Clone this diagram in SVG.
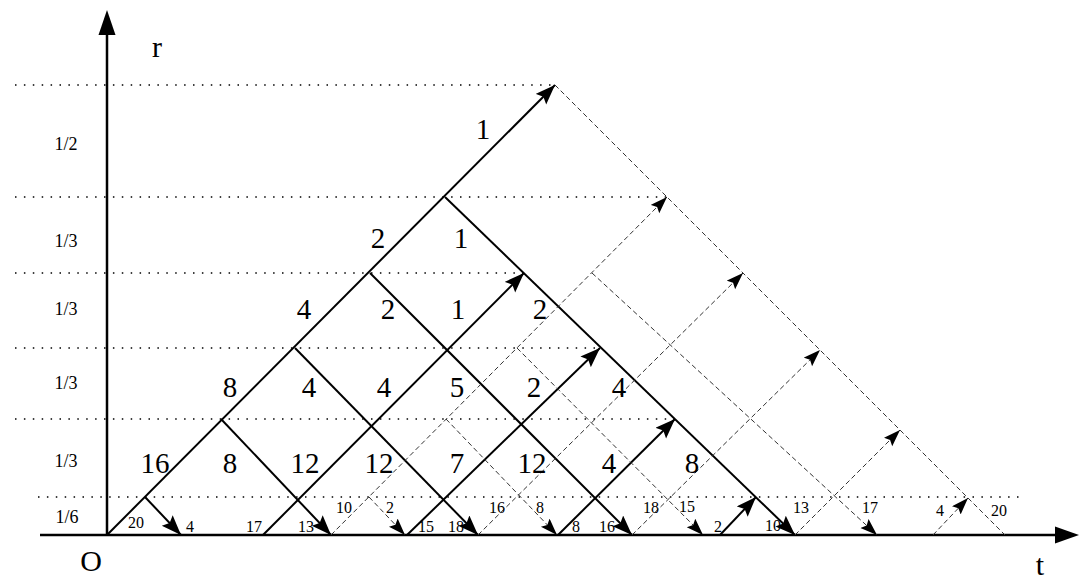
<svg xmlns="http://www.w3.org/2000/svg" width="1080" height="582" viewBox="0 0 1080 582">
<style>
  .dot{stroke:#000;stroke-width:1.5;stroke-dasharray:1.5 7.4;fill:none}
  .sol{stroke:#000;stroke-width:2;fill:none}
  .das{stroke:#333;stroke-width:1;stroke-dasharray:5 3;fill:none}
  .axis{stroke:#000;stroke-width:2.5;fill:none}
  .big{font-family:"Liberation Serif","Times New Roman",serif;font-size:29px;text-anchor:middle;fill:#000}
  .sm{font-family:"Liberation Serif","Times New Roman",serif;font-size:16px;text-anchor:middle;fill:#000}
  .fr{font-family:"Liberation Serif","Times New Roman",serif;font-size:18px;text-anchor:middle;fill:#000}
  .ax{font-family:"Liberation Serif","Times New Roman",serif;font-size:30px;text-anchor:middle;fill:#000}
</style>
<defs>
  <marker id="as" markerUnits="userSpaceOnUse" markerWidth="21" markerHeight="16" refX="20" refY="7.5" orient="auto">
    <path d="M0,0 L20,7.5 L0,15 L3.5,7.5 z" fill="#000" stroke="none"/>
  </marker>
  <marker id="ad" markerUnits="userSpaceOnUse" markerWidth="18" markerHeight="13" refX="17" refY="6" orient="auto">
    <path d="M0,0 L17,6 L0,12 L3,6 z" fill="#000" stroke="none"/>
  </marker>
</defs>
<rect width="1080" height="582" fill="#fff"/>

<g id="levels">
  <line class="dot" x1="15" y1="85" x2="555" y2="85"/>
  <line class="dot" x1="15" y1="197" x2="667" y2="197"/>
  <line class="dot" x1="15" y1="273" x2="524" y2="273"/>
  <line class="dot" x1="15" y1="348" x2="600" y2="348"/>
  <line class="dot" x1="15" y1="419" x2="675" y2="419"/>
  <line class="dot" x1="38" y1="497" x2="1025" y2="497"/>
</g>

<g id="axes">
  <line class="axis" x1="40" y1="535" x2="1058" y2="535"/>
  <polygon points="1079,535 1055,526.5 1055,543.5" fill="#000"/>
  <line class="axis" x1="107" y1="535" x2="107" y2="32"/>
  <polygon points="107,10 98.5,35 115.5,35" fill="#000"/>
</g>

<g id="connectors">
  <!-- solid rising -->
  <line class="sol" x1="107" y1="535" x2="555" y2="85" marker-end="url(#as)"/>
  <line class="sol" x1="263" y1="535" x2="524" y2="273" marker-end="url(#as)"/>
  <line class="sol" x1="407" y1="535" x2="600" y2="348" marker-end="url(#as)"/>
  <line class="sol" x1="558" y1="535" x2="675" y2="419" marker-end="url(#as)"/>
  <line class="sol" x1="720" y1="535" x2="756" y2="497" marker-end="url(#as)"/>
  <!-- solid descending -->
  <line class="sol" x1="145" y1="497" x2="181" y2="535" marker-end="url(#as)"/>
  <line class="sol" x1="221" y1="419" x2="331" y2="535" marker-end="url(#as)"/>
  <line class="sol" x1="295" y1="348" x2="478" y2="535" marker-end="url(#as)"/>
  <line class="sol" x1="370" y1="273" x2="632" y2="535" marker-end="url(#as)"/>
  <line class="sol" x1="445" y1="197" x2="795" y2="535" marker-end="url(#as)"/>
  <!-- dashed outer -->
  <line class="das" x1="555" y1="85" x2="1005" y2="535"/>
  <!-- dashed rising -->
  <line class="das" x1="331" y1="535" x2="667" y2="197" marker-end="url(#ad)"/>
  <line class="das" x1="478" y1="535" x2="743" y2="273" marker-end="url(#ad)"/>
  <line class="das" x1="632" y1="535" x2="820" y2="350" marker-end="url(#ad)"/>
  <line class="das" x1="795" y1="535" x2="900" y2="430" marker-end="url(#ad)"/>
  <line class="das" x1="933" y1="535" x2="968" y2="498" marker-end="url(#ad)"/>
  <!-- dashed descending -->
  <line class="das" x1="369" y1="497" x2="405" y2="535" marker-end="url(#ad)"/>
  <line class="das" x1="446" y1="419" x2="557" y2="535" marker-end="url(#ad)"/>
  <line class="das" x1="517" y1="348" x2="703" y2="535" marker-end="url(#ad)"/>
  <line class="das" x1="592" y1="273" x2="877" y2="535" marker-end="url(#ad)"/>
</g>

<g id="axis-labels">
  <text class="ax" x="157" y="57">r</text>
  <text class="ax" x="91" y="571">O</text>
  <text class="ax" x="1040" y="575">t</text>
</g>

<g id="level-labels">
  <text class="fr" x="66" y="150">1/2</text>
  <text class="fr" x="66" y="247">1/3</text>
  <text class="fr" x="66" y="315">1/3</text>
  <text class="fr" x="66" y="389">1/3</text>
  <text class="fr" x="66" y="467">1/3</text>
  <text class="fr" x="67" y="523">1/6</text>
</g>

<g id="cell-values">
  <text class="big" x="483" y="139">1</text>
  <text class="big" x="378" y="248">2</text>
  <text class="big" x="461" y="248">1</text>
  <text class="big" x="304" y="319">4</text>
  <text class="big" x="388" y="319">2</text>
  <text class="big" x="458" y="319">1</text>
  <text class="big" x="540" y="319">2</text>
  <text class="big" x="230" y="397">8</text>
  <text class="big" x="309" y="397">4</text>
  <text class="big" x="384" y="397">4</text>
  <text class="big" x="457" y="397">5</text>
  <text class="big" x="534" y="397">2</text>
  <text class="big" x="619" y="397">4</text>
  <text class="big" x="155" y="473">16</text>
  <text class="big" x="230" y="473">8</text>
  <text class="big" x="305" y="473">12</text>
  <text class="big" x="379" y="473">12</text>
  <text class="big" x="457" y="473">7</text>
  <text class="big" x="532" y="473">12</text>
  <text class="big" x="609" y="473">4</text>
  <text class="big" x="692" y="473">8</text>
</g>

<g id="time-labels">
  <text class="sm" x="136" y="528">20</text>
  <text class="sm" x="190" y="532">4</text>
  <text class="sm" x="254" y="532">17</text>
  <text class="sm" x="306" y="532">13</text>
  <text class="sm" x="344" y="513">10</text>
  <text class="sm" x="390" y="513">2</text>
  <text class="sm" x="426" y="532">15</text>
  <text class="sm" x="456" y="532">18</text>
  <text class="sm" x="497" y="513">16</text>
  <text class="sm" x="540" y="513">8</text>
  <text class="sm" x="576" y="532">8</text>
  <text class="sm" x="607" y="532">16</text>
  <text class="sm" x="651" y="513">18</text>
  <text class="sm" x="687" y="512">15</text>
  <text class="sm" x="718" y="532">2</text>
  <text class="sm" x="773" y="531">10</text>
  <text class="sm" x="801" y="513">13</text>
  <text class="sm" x="870" y="513">17</text>
  <text class="sm" x="940" y="516">4</text>
  <text class="sm" x="999" y="516">20</text>
</g>
</svg>
